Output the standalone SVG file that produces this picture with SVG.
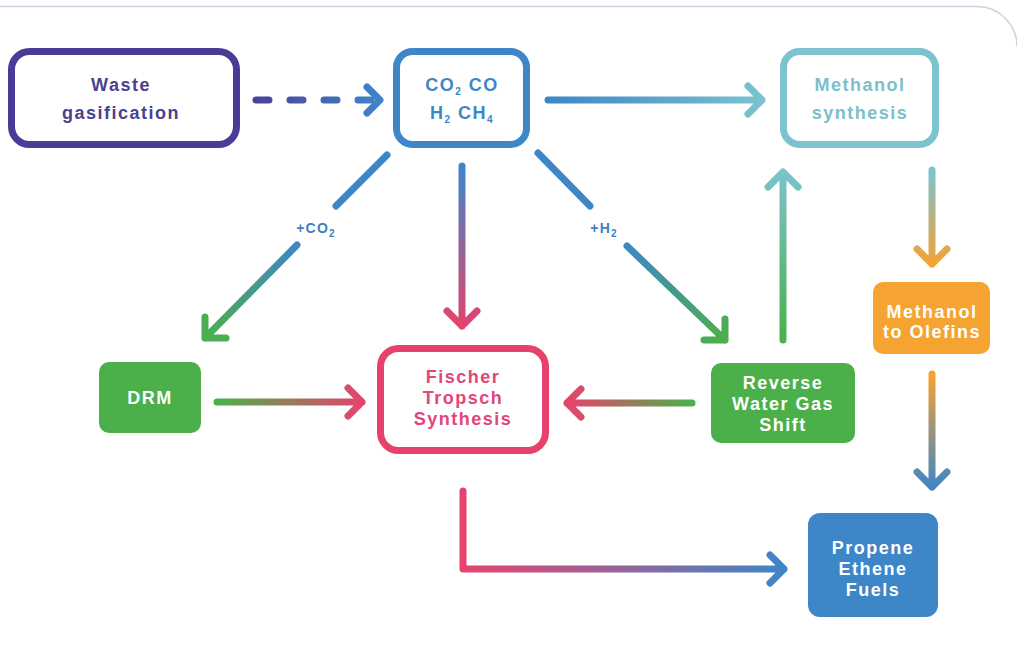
<svg xmlns="http://www.w3.org/2000/svg" width="1017" height="662" viewBox="0 0 1017 662">
  <style>
    .t { font-family: "Liberation Sans", Arial, sans-serif; font-weight: 700; font-size: 18px; letter-spacing: 1.5px; text-anchor: middle; }
    .lbl { font-family: "Liberation Sans", Arial, sans-serif; font-weight: 700; font-size: 14px; letter-spacing: 1.2px; text-anchor: middle; fill: #3f80c4; }
    .sub { font-size: 10px; }
    .w { fill: #ffffff; }
    .c { fill: none; stroke-width: 7; stroke-linecap: round; stroke-linejoin: round; }
    .box { fill: #ffffff; stroke-width: 7; }
  </style>
  <defs>
    <linearGradient id="gDash" gradientUnits="userSpaceOnUse" x1="252" y1="0" x2="382" y2="0">
      <stop offset="0" stop-color="#4b3f9c"/><stop offset="1" stop-color="#3f86c9"/>
    </linearGradient>
    <linearGradient id="gMeth" gradientUnits="userSpaceOnUse" x1="548" y1="0" x2="765" y2="0">
      <stop offset="0" stop-color="#3d86c8"/><stop offset="1" stop-color="#7cc3cf"/>
    </linearGradient>
    <linearGradient id="gFtsV" gradientUnits="userSpaceOnUse" x1="0" y1="166" x2="0" y2="328">
      <stop offset="0" stop-color="#3d86c8"/><stop offset="1" stop-color="#e6436d"/>
    </linearGradient>
    <linearGradient id="gDrm" gradientUnits="userSpaceOnUse" x1="300" y1="242" x2="204" y2="340">
      <stop offset="0" stop-color="#3d86c8"/><stop offset="1" stop-color="#4cb04a"/>
    </linearGradient>
    <linearGradient id="gRw" gradientUnits="userSpaceOnUse" x1="625" y1="244" x2="726" y2="342">
      <stop offset="0" stop-color="#3d86c8"/><stop offset="1" stop-color="#4cb04a"/>
    </linearGradient>
    <linearGradient id="gUp" gradientUnits="userSpaceOnUse" x1="0" y1="340" x2="0" y2="170">
      <stop offset="0" stop-color="#4cb04a"/><stop offset="1" stop-color="#7cc3cf"/>
    </linearGradient>
    <linearGradient id="gMto" gradientUnits="userSpaceOnUse" x1="0" y1="170" x2="0" y2="266">
      <stop offset="0" stop-color="#7cc3cf"/><stop offset="1" stop-color="#f5a231"/>
    </linearGradient>
    <linearGradient id="gProp" gradientUnits="userSpaceOnUse" x1="0" y1="374" x2="0" y2="489">
      <stop offset="0" stop-color="#f5a231"/><stop offset="1" stop-color="#3d86c8"/>
    </linearGradient>
    <linearGradient id="gDrmF" gradientUnits="userSpaceOnUse" x1="217" y1="0" x2="364" y2="0">
      <stop offset="0" stop-color="#4cb04a"/><stop offset="1" stop-color="#e6436d"/>
    </linearGradient>
    <linearGradient id="gRwF" gradientUnits="userSpaceOnUse" x1="692" y1="0" x2="566" y2="0">
      <stop offset="0" stop-color="#4cb04a"/><stop offset="1" stop-color="#e6436d"/>
    </linearGradient>
    <linearGradient id="gFp" gradientUnits="userSpaceOnUse" x1="463" y1="0" x2="785" y2="0">
      <stop offset="0" stop-color="#e6436d"/><stop offset="1" stop-color="#3d86c8"/>
    </linearGradient>
  </defs>

  <rect x="0" y="0" width="1017" height="662" fill="#ffffff"/>
  <path d="M0,6.5 H977 A40,40 0 0 1 1017,46.5" fill="none" stroke="#c9d3e1" stroke-width="1.5"/>

  <g id="connectors">
    <path class="c" stroke="url(#gDash)" stroke-dasharray="13 21" d="M256,100 H374"/>
    <path class="c" stroke="url(#gDash)" d="M367,87 L380,100 L367,113"/>
    <path class="c" stroke="url(#gMeth)" d="M548,100 H762 M748,86 L762,100 L748,114"/>
    <path class="c" stroke="url(#gFtsV)" d="M462,166 V326 M447,311 L462,326 L477,311"/>
    <path class="c" stroke="#3d86c8" d="M387,155 L336,206"/>
    <path class="c" stroke="url(#gDrm)" d="M297,245 L205,338 M205,317 L205,338 L226,338"/>
    <path class="c" stroke="#3d86c8" d="M538,153 L590,206"/>
    <path class="c" stroke="url(#gRw)" d="M627,246 L725,340 M725,319 L725,340 L704,340"/>
    <path class="c" stroke="url(#gUp)" d="M783,340 V172 M768,187 L783,172 L798,187"/>
    <path class="c" stroke="url(#gMto)" d="M932,170 V264 M917,249 L932,264 L947,249"/>
    <path class="c" stroke="url(#gProp)" d="M932,374 V487 M917,472 L932,487 L947,472"/>
    <path class="c" stroke="url(#gDrmF)" d="M217,402 H362 M348,388 L362,402 L348,416"/>
    <path class="c" stroke="url(#gRwF)" d="M692,403 H567 M581,389 L567,403 L581,417"/>
    <path class="c" stroke="url(#gFp)" d="M463,491 V569 H784 M770,555 L784,569 L770,583"/>
    <text class="lbl" x="316" y="233">+CO<tspan class="sub" dy="4">2</tspan></text>
    <text class="lbl" x="604" y="233">+H<tspan class="sub" dy="4">2</tspan></text>
  </g>

  <g id="waste">
    <rect class="box" x="11.5" y="51.5" width="225" height="93" rx="18" stroke="#4b3b97"/>
    <text class="t" x="121" y="91" fill="#4a4190">Waste</text>
    <text class="t" x="121" y="119" fill="#4a4190">gasification</text>
  </g>

  <g id="syngas">
    <rect class="box" x="396.5" y="51.5" width="130" height="93" rx="16" stroke="#3d86c8"/>
    <text class="t" x="462" y="91" fill="#3d86c8">CO<tspan class="sub" dy="4">2</tspan><tspan dy="-4"> CO</tspan></text>
    <text class="t" x="462" y="119" fill="#3d86c8">H<tspan class="sub" dy="4">2</tspan><tspan dy="-4"> CH</tspan><tspan class="sub" dy="4">4</tspan></text>
  </g>

  <g id="methanol">
    <rect class="box" x="783.5" y="51.5" width="152" height="93" rx="16" stroke="#7cc3cf"/>
    <text class="t" x="860" y="91" fill="#7bbfcb">Methanol</text>
    <text class="t" x="860" y="119" fill="#7bbfcb">synthesis</text>
  </g>

  <g id="mto">
    <rect x="873" y="282" width="117" height="72" rx="10" fill="#f5a432"/>
    <text class="t w" x="932" y="318">Methanol</text>
    <text class="t w" x="932" y="338">to Olefins</text>
  </g>

  <g id="products">
    <rect x="808" y="513" width="130" height="104" rx="12" fill="#3d86c8"/>
    <text class="t w" x="873" y="554">Propene</text>
    <text class="t w" x="873" y="575">Ethene</text>
    <text class="t w" x="873" y="596">Fuels</text>
  </g>

  <g id="drm">
    <rect x="99" y="362" width="102" height="71" rx="10" fill="#4cb04a"/>
    <text class="t w" x="150" y="404">DRM</text>
  </g>

  <g id="fts">
    <rect class="box" x="380.5" y="348.5" width="165" height="102" rx="18" stroke="#e5436d"/>
    <text class="t" x="463" y="383" fill="#e2477a">Fischer</text>
    <text class="t" x="463" y="404" fill="#e2477a">Tropsch</text>
    <text class="t" x="463" y="425" fill="#e2477a">Synthesis</text>
  </g>

  <g id="rwgs">
    <rect x="711" y="363" width="144" height="80" rx="10" fill="#4cb04a"/>
    <text class="t w" x="783" y="389">Reverse</text>
    <text class="t w" x="783" y="410">Water Gas</text>
    <text class="t w" x="783" y="431">Shift</text>
  </g>
</svg>
